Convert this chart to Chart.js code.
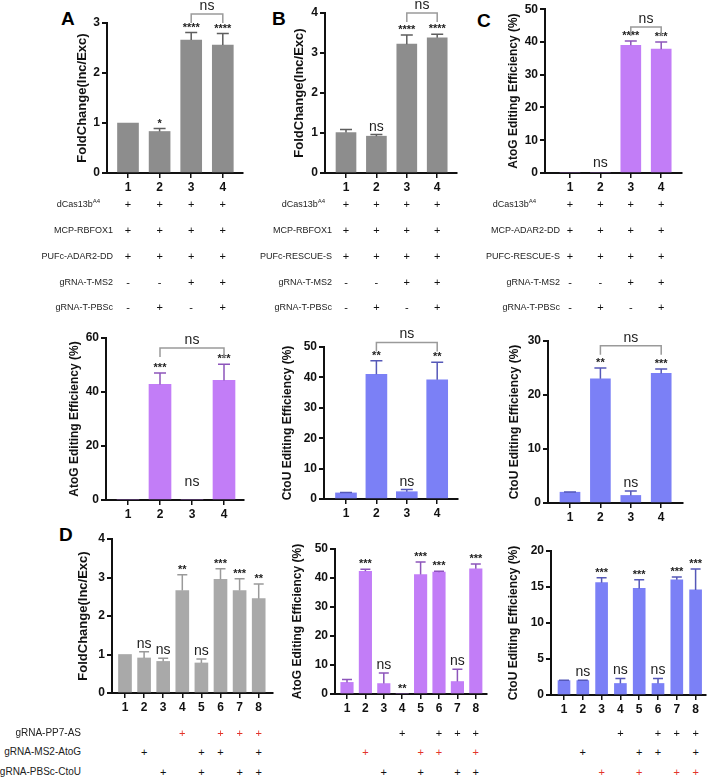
<!DOCTYPE html>
<html>
<head>
<meta charset="utf-8">
<script src="https://cdn.jsdelivr.net/npm/chart.js@4.4.1/dist/chart.umd.min.js"></script>
<style>
body{margin:0;background:#fff;width:708px;height:779px;position:relative;overflow:hidden;font-family:'Liberation Sans',Arial,sans-serif;-webkit-font-smoothing:antialiased}
canvas{position:absolute}
.lbl{position:absolute;color:#222;white-space:nowrap;line-height:1;transform:translate(-100%,-50%)}
.lbl sup{font-size:6px;vertical-align:4px;line-height:0}
.sg{position:absolute;font-size:11px;line-height:1;color:#111;transform:translate(-50%,-50%)}
.letter{position:absolute;font:bold 19px 'Liberation Sans',Arial,sans-serif;line-height:1;color:#000}
</style>
</head>
<body>
<div class="letter" style="left:61px;top:9px">A</div>
<div class="letter" style="left:272px;top:9px">B</div>
<div class="letter" style="left:477px;top:11px">C</div>
<div class="letter" style="left:59px;top:525px">D</div>
<script>
// ---- data ----
var topX = ['1','2','3','4'];
var dX = ['1','2','3','4','5','6','7','8'];

var foldA = [1.0, 0.83, 2.66, 2.56];
var foldAErr = [0, 0.06, 0.15, 0.23];
var foldASig = ['', '*', '****', '****'];
var foldABr = [[3, 4, 3.18, 'ns']];

var foldB = [1.01, 0.92, 3.22, 3.38];
var foldBErr = [0.08, 0.04, 0.23, 0.09];
var foldBSig = ['', 'ns', '****', '****'];
var foldBBr = [[3, 4, 4.0, 'ns']];

var atogC = [0, 0, 39.0, 37.8];
var atogCErr = [0, 0, 1.3, 2.2];
var atogCSig = ['', 'ns', '****', '***'];
var atogCBr = [[3, 4, 44.6, 'ns']];

var atogA2 = [0, 42.8, 0, 44.3];
var atogA2Err = [0, 4.2, 0, 6.0];
var atogA2Sig = ['', '***', 'ns', '***'];
var atogA2Br = [[2, 4, 56.3, 'ns']];

var ctouB2 = [2.0, 41.0, 2.4, 39.2];
var ctouB2Err = [0.1, 4.5, 0.7, 5.8];
var ctouB2Sig = ['', '**', 'ns', '**'];
var ctouB2Br = [[2, 4, 51.5, 'ns']];

var ctouC2 = [2.0, 23.0, 1.4, 24.0];
var ctouC2Err = [0.05, 2.0, 0.8, 0.8];
var ctouC2Sig = ['', '**', 'ns', '***'];
var ctouC2Br = [[2, 4, 29.1, 'ns']];

var foldD = [1.0, 0.91, 0.82, 2.66, 0.78, 2.95, 2.66, 2.45];
var foldDErr = [0, 0.16, 0.08, 0.41, 0.1, 0.28, 0.31, 0.38];
var foldDSig = ['', 'ns', 'ns', '**', 'ns', '***', '***', '**'];

var atogD = [4.0, 42.3, 3.6, 0, 41.2, 42.0, 4.3, 43.2];
var atogDErr = [1.0, 0.7, 3.6, 0, 4.3, 0.3, 4.2, 1.6];
var atogDSig = ['', '***', 'ns', '**', '***', '***', 'ns', '***'];

var ctouD = [2.0, 2.0, 15.6, 1.6, 14.8, 1.6, 16.0, 14.6];
var ctouDErr = [0.05, 0.05, 0.7, 0.7, 1.2, 0.7, 0.4, 2.9];
var ctouDSig = ['', 'ns', '***', 'ns', '***', 'ns', '***', '***'];

var rowsTopA = ['dCas13b<sup>A4</sup>', 'MCP-RBFOX1', 'PUFc-ADAR2-DD', 'gRNA-T-MS2', 'gRNA-T-PBSc'];
var rowsTopB = ['dCas13b<sup>A4</sup>', 'MCP-RBFOX1', 'PUFc-RESCUE-S', 'gRNA-T-MS2', 'gRNA-T-PBSc'];
var rowsTopC = ['dCas13b<sup>A4</sup>', 'MCP-ADAR2-DD', 'PUFC-RESCUE-S', 'gRNA-T-MS2', 'gRNA-T-PBSc'];
var signsTop = [['+','+','+','+'], ['+','+','+','+'], ['+','+','+','+'], ['-','-','+','+'], ['-','+','-','+']];
var rowsD = ['gRNA-PP7-AS', 'gRNA-MS2-AtoG', 'gRNA-PBSc-CtoU'];
var signsD = [['','','','+','','+','+','+'], ['','+','','','+','+','','+'], ['','','+','','+','','+','+']];

// ---- colours ----
var GRAY = '#8d8d8d', GRAYD = '#a9a9a9', PURPLE = '#c27df7', BLUE = '#7b80f6';
var FONT = "'Liberation Sans', Arial, sans-serif";
Chart.defaults.font.family = FONT;
Chart.defaults.color = '#111';

function addPanel(p) {
  var cl = p.box[0], ct = p.box[1], cw = p.box[2], ch = p.box[3];
  var cv = document.createElement('canvas');
  cv.width = cw; cv.height = ch;
  cv.style.left = cl + 'px'; cv.style.top = ct + 'px';
  document.body.appendChild(cv);

  var tSize = p.titleSize || 12;
  var xmin = 1 - (p.bar1 - p.axL) / p.step;
  var xmax = 1 + (p.axR - p.bar1) / p.step;
  var padL = p.titleX - cl - (tSize * 0.6 + 4);
  var wY = p.axL - cl - padL;
  var hX = 26;
  var padB = ch - (p.y0 - ct) - hX;
  var padT = p.yTop - ct;
  var padR = cl + cw - p.axR;
  var pts = p.values.map(function(v, i){ return {x: i + 1, y: v}; });

  var deco = {
    id: 'deco',
    afterDatasetsDraw: function(chart) {
      var ctx = chart.ctx, ys = chart.scales.y, xs = chart.scales.x;
      ctx.save();
      p.values.forEach(function(v, i) {
        var x = xs.getPixelForValue(i + 1);
        var e = p.errs[i];
        var yt = ys.getPixelForValue(v + e);
        if (e > 0) {
          ctx.strokeStyle = p.errColor; ctx.lineWidth = 1.5;
          ctx.beginPath();
          ctx.moveTo(x, ys.getPixelForValue(v)); ctx.lineTo(x, yt);
          ctx.moveTo(x - p.cap, yt); ctx.lineTo(x + p.cap, yt);
          ctx.stroke();
        }
        var s = p.sigs[i];
        if (s) {
          ctx.fillStyle = '#222'; ctx.textAlign = 'center'; ctx.textBaseline = 'alphabetic';
          ctx.font = s === 'ns' ? '14px ' + FONT : 'bold 11px ' + FONT;
          var lift = s === 'ns' ? 4 : 2;
          if (v + e === 0 && s === 'ns') lift = p.zeroLift || 5;
          ctx.fillText(s, x, yt - lift);
        }
      });
      (p.brackets || []).forEach(function(b) {
        var x1 = xs.getPixelForValue(b[0]), x2 = xs.getPixelForValue(b[1]), y = ys.getPixelForValue(b[2]);
        ctx.strokeStyle = '#9a9a9a'; ctx.lineWidth = 1.5;
        ctx.beginPath();
        ctx.moveTo(x1, y + 9); ctx.lineTo(x1, y); ctx.lineTo(x2, y); ctx.lineTo(x2, y + 9);
        ctx.stroke();
        ctx.fillStyle = '#222'; ctx.font = '14px ' + FONT; ctx.textAlign = 'center'; ctx.textBaseline = 'alphabetic';
        ctx.fillText(b[3], (x1 + x2) / 2, y - 4);
      });
      ctx.restore();
    }
  };

  var chart = new Chart(cv, {
    type: 'bar',
    data: {datasets: [{data: pts, backgroundColor: p.color, borderWidth: 0, barThickness: p.barW}]},
    options: {
      responsive: false, animation: false,
      layout: {padding: {left: padL, right: padR, top: padT, bottom: padB}},
      plugins: {legend: {display: false}, tooltip: {enabled: false}},
      scales: {
        x: {
          type: 'linear', min: xmin, max: xmax, offset: false,
          afterBuildTicks: function(s) { s.ticks = p.labels.map(function(l, i){ return {value: i + 1}; }); },
          afterFit: function(s) { s.height = hX; },
          ticks: {autoSkip: false, maxRotation: 0, padding: 2, font: {size: 12, weight: 'bold'}, color: '#111',
                  callback: function(v, i) { return p.labels[i]; }},
          grid: {offset: false, drawOnChartArea: false, drawTicks: true, tickLength: 5, color: '#111', lineWidth: 1.5},
          border: {color: '#111', width: 2}
        },
        y: {
          min: 0, max: p.yMax,
          afterFit: function(s) { s.width = wY; },
          ticks: {stepSize: p.yStep, padding: 2, font: {size: 12, weight: 'bold'}, color: '#111'},
          grid: {drawOnChartArea: false, tickLength: 5, color: '#111', lineWidth: 2},
          border: {color: '#111', width: 2},
          title: {display: true, text: p.title, font: {size: tSize, weight: 'bold'}, color: '#111', padding: {top: 4, bottom: 4}}
        }
      }
    },
    plugins: [deco]
  });
  return {chart: chart, left: cl};
}

function addTable(pan, rows, signs, rowYs, labelEnd, firstEnd, fontPx, redRow) {
  var xs = pan.chart.scales.x;
  signs.forEach(function(r, ri) {
    if (rows) {
      var d = document.createElement('div');
      d.className = 'lbl';
      d.style.fontSize = fontPx + 'px';
      d.style.left = (ri === 0 && firstEnd ? firstEnd : labelEnd) + 'px';
      d.style.top = rowYs[ri] + 'px';
      d.innerHTML = rows[ri];
      document.body.appendChild(d);
    }
    r.forEach(function(s, ci) {
      if (!s) return;
      var g = document.createElement('div');
      g.className = 'sg';
      g.textContent = s;
      g.style.left = (pan.left + xs.getPixelForValue(ci + 1)) + 'px';
      g.style.top = rowYs[ri] + 'px';
      if (ri === redRow) g.style.color = '#e3342c';
      document.body.appendChild(g);
    });
  });
}

var pA = addPanel({box: [0, 0, 250, 205], axL: 107, axR: 243, bar1: 128, step: 31.6, y0: 173, yTop: 23,
  yMax: 3, yStep: 1, titleX: 82, titleSize: 13, title: 'FoldChange(Inc/Exc)', labels: topX, values: foldA, errs: foldAErr,
  sigs: foldASig, brackets: foldABr, color: GRAY, errColor: '#5e5e5e', barW: 21, cap: 6});
var pB = addPanel({box: [250, 0, 215, 205], axL: 325, axR: 457, bar1: 346, step: 30.4, y0: 173, yTop: 13,
  yMax: 4, yStep: 1, titleX: 299, titleSize: 13, title: 'FoldChange(Inc/Exc)', labels: topX, values: foldB, errs: foldBErr,
  sigs: foldBSig, brackets: foldBBr, color: GRAY, errColor: '#5e5e5e', barW: 20, cap: 6});
var pC = addPanel({box: [470, 0, 238, 205], axL: 545, axR: 682, bar1: 570, step: 30.4, y0: 173, yTop: 6,
  yMax: 50, yStep: 10, titleX: 514, title: 'AtoG Editing Efficiency (%)', labels: topX, values: atogC, errs: atogCErr,
  sigs: atogCSig, brackets: atogCBr, color: PURPLE, errColor: '#8d55bb', barW: 20, cap: 6, zeroLift: 6});

var pA2 = addPanel({box: [0, 315, 250, 215], axL: 106, axR: 244, bar1: 128, step: 32, y0: 500, yTop: 338,
  yMax: 60, yStep: 20, titleX: 75, title: 'AtoG Editing Efficiency (%)', labels: topX, values: atogA2, errs: atogA2Err,
  sigs: atogA2Sig, brackets: atogA2Br, color: PURPLE, errColor: '#8d55bb', barW: 22, cap: 6, zeroLift: 14});
var pB2 = addPanel({box: [250, 315, 215, 215], axL: 324, axR: 458, bar1: 346, step: 30.4, y0: 499, yTop: 347,
  yMax: 50, yStep: 10, titleX: 288, title: 'CtoU Editing Efficiency (%)', labels: topX, values: ctouB2, errs: ctouB2Err,
  sigs: ctouB2Sig, brackets: ctouB2Br, color: BLUE, errColor: '#5558b8', barW: 21, cap: 6});
var pC2 = addPanel({box: [470, 315, 238, 215], axL: 548, axR: 683, bar1: 570, step: 30.4, y0: 503, yTop: 341,
  yMax: 30, yStep: 10, titleX: 515, title: 'CtoU Editing Efficiency (%)', labels: topX, values: ctouC2, errs: ctouC2Err,
  sigs: ctouC2Sig, brackets: ctouC2Br, color: BLUE, errColor: '#5558b8', barW: 20, cap: 6});

var pD1 = addPanel({box: [0, 518, 280, 205], axL: 112, axR: 273, bar1: 125, step: 19.1, y0: 693, yTop: 539,
  yMax: 4, yStep: 1, titleX: 83, titleSize: 13, title: 'FoldChange(Inc/Exc)', labels: dX, values: foldD, errs: foldDErr,
  sigs: foldDSig, color: GRAYD, errColor: '#9a9a9a', barW: 13, cap: 5});
var pD2 = addPanel({box: [280, 518, 212, 205], axL: 335, axR: 487, bar1: 347, step: 18.4, y0: 694, yTop: 549,
  yMax: 50, yStep: 10, titleX: 298, title: 'AtoG Editing Efficiency (%)', labels: dX, values: atogD, errs: atogDErr,
  sigs: atogDSig, color: PURPLE, errColor: '#8d55bb', barW: 12.5, cap: 5});
var pD3 = addPanel({box: [492, 518, 216, 205], axL: 551, axR: 706, bar1: 564, step: 18.8, y0: 695, yTop: 551,
  yMax: 20, yStep: 5, titleX: 514, title: 'CtoU Editing Efficiency (%)', labels: dX, values: ctouD, errs: ctouDErr,
  sigs: ctouDSig, color: BLUE, errColor: '#5558b8', barW: 12, cap: 5});

var topRowsY = [204, 230, 256, 282, 307];
addTable(pA, rowsTopA, signsTop, topRowsY, 113, 100, 9, -1);
addTable(pB, rowsTopB, signsTop, topRowsY, 332, 325, 9, -1);
addTable(pC, rowsTopC, signsTop, topRowsY, 560, 536, 9, -1);

var dRowsY = [733, 752, 772];
addTable(pD1, rowsD, signsD, dRowsY, 81, 0, 10, 0);
addTable(pD2, null, signsD, dRowsY, 0, 0, 10, 1);
addTable(pD3, null, signsD, dRowsY, 0, 0, 10, 2);
</script>
</body>
</html>
